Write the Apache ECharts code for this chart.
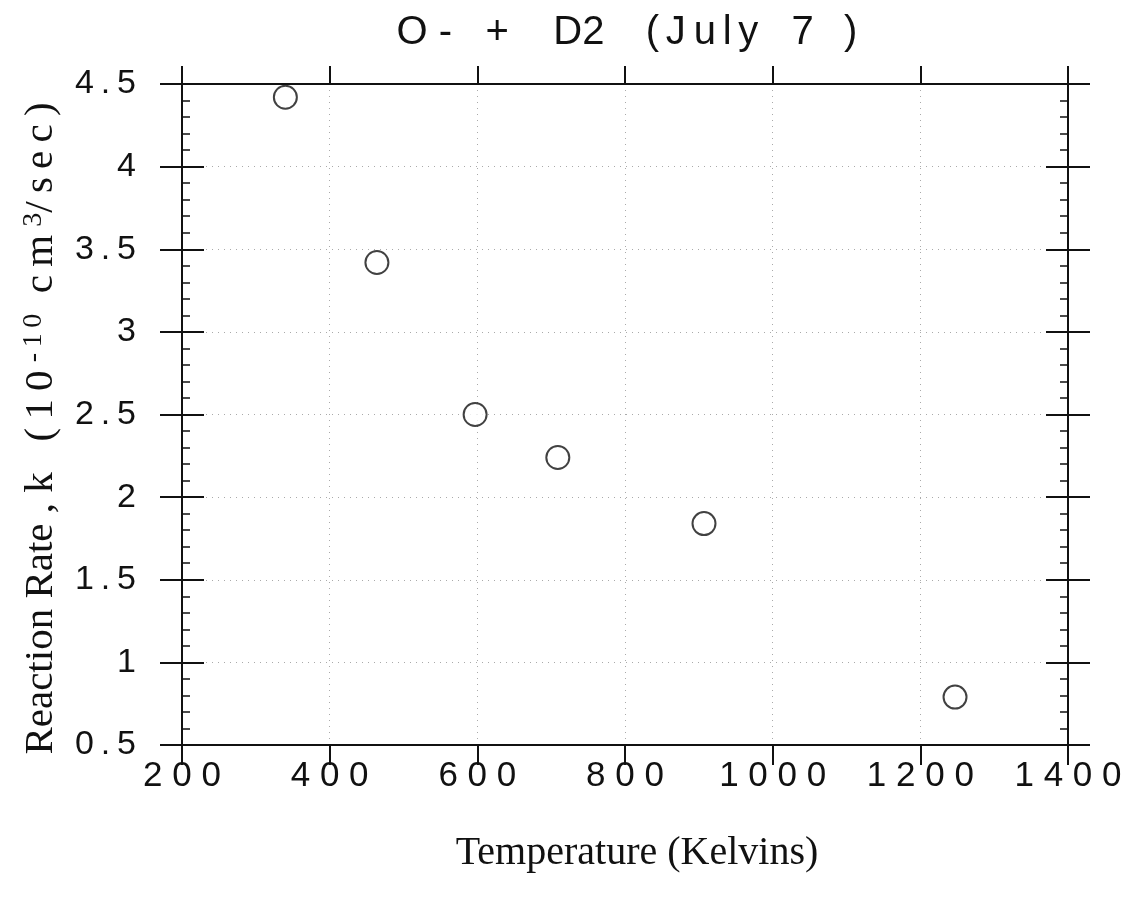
<!DOCTYPE html>
<html>
<head>
<meta charset="utf-8">
<script src="https://cdn.jsdelivr.net/npm/echarts@6/dist/echarts.min.js"></script>
<style>
  html, body { margin: 0; padding: 0; background: #fff; }
  #chart { width: 1139px; height: 915px; }
</style>
</head>
<body>
<div id="chart"></div>
<script>
var temperatures = [340, 464, 597, 709, 907, 1247];
var rates = [4.42, 3.42, 2.50, 2.24, 1.84, 0.79];

var xTicks = [200, 400, 600, 800, 1000, 1200, 1400];
var yTicks = [0.5, 1, 1.5, 2, 2.5, 3, 3.5, 4, 4.5];

var points = temperatures.map(function (t, i) { return [t, rates[i]]; });

var spread = function (sep) {
  return function (v) { return String(v).split('').join(sep); };
};

var ink = '#111';
var dotted = { show: true, lineStyle: { color: '#aaa', type: [1, 5], width: 1 } };

function yAxisBase(pos, inside, withLabels, withMinor) {
  return {
    type: 'value', position: pos,
    min: yTicks[0], max: yTicks[yTicks.length - 1], interval: 0.5,
    axisLine: { show: true, lineStyle: { color: ink, width: 2 } },
    axisTick: { show: true, inside: inside, length: 22, lineStyle: { color: ink, width: 2 } },
    minorTick: { show: withMinor, splitNumber: 5, length: 8, lineStyle: { color: ink, width: 1.5 } },
    axisLabel: {
      show: withLabels, margin: 46, color: ink, fontSize: 34,
      fontFamily: 'Liberation Sans', formatter: spread('\u2009')
    },
    splitLine: { show: false }
  };
}

var option = {
  backgroundColor: '#fff',
  animation: false,
  title: {
    text: 'O -   +    D2   \u2009(\u2006J\u2009u\u2006l\u2006y   7  \u2009)',
    left: 622, top: 8, textAlign: 'center',
    textStyle: { fontFamily: 'Liberation Sans', fontWeight: 'normal', fontSize: 40, color: ink }
  },
  grid: { left: 182, right: 71, top: 84, bottom: 170 },
  xAxis: [{
    type: 'value', position: 'bottom',
    min: xTicks[0], max: xTicks[xTicks.length - 1], interval: 200,
    name: 'Temperature (Kelvins)', nameLocation: 'middle', nameGap: 88,
    nameTextStyle: { fontFamily: 'Liberation Serif', fontSize: 40, color: ink, padding: [0, 0, 0, 24] },
    axisLine: { show: true, lineStyle: { color: ink, width: 2 } },
    axisTick: { show: true, length: 20, lineStyle: { color: ink, width: 2 } },
    axisLabel: { margin: 14, color: ink, fontSize: 35, fontFamily: 'Liberation Sans', formatter: spread(' ') },
    splitLine: dotted
  }, {
    type: 'value', position: 'top',
    min: xTicks[0], max: xTicks[xTicks.length - 1], interval: 200,
    axisLine: { show: true, lineStyle: { color: ink, width: 2 } },
    axisTick: { show: true, length: 18, lineStyle: { color: ink, width: 2 } },
    axisLabel: { show: false },
    splitLine: { show: false }
  }],
  yAxis: [
    Object.assign(yAxisBase('left', false, true, false), {
      name: 'Reaction Rate , k   (\u20091\u20090\u2009{sup|-\u20091\u20090}  c\u2009m\u2009{sup|3}/\u2009s\u2009e\u2009c\u2009)',
      nameLocation: 'middle', nameGap: 120,
      nameTextStyle: {
        fontFamily: 'Liberation Serif', fontSize: 41, color: ink, padding: [0, 28, 0, 0],
        rich: { sup: { fontFamily: 'Liberation Serif', fontSize: 28, color: ink, verticalAlign: 'top', padding: [0, 0, 14, 0] } }
      },
      splitLine: dotted
    }),
    yAxisBase('left', true, false, true),
    yAxisBase('right', false, false, false),
    yAxisBase('right', true, false, true)
  ],
  series: [{
    type: 'scatter',
    data: points,
    symbol: 'circle',
    symbolSize: 23,
    z: 5,
    itemStyle: { color: '#fff', borderColor: ink, borderWidth: 2 }
  }]
};

var chart = echarts.init(document.getElementById('chart'));
chart.setOption(option);
</script>
</body>
</html>
